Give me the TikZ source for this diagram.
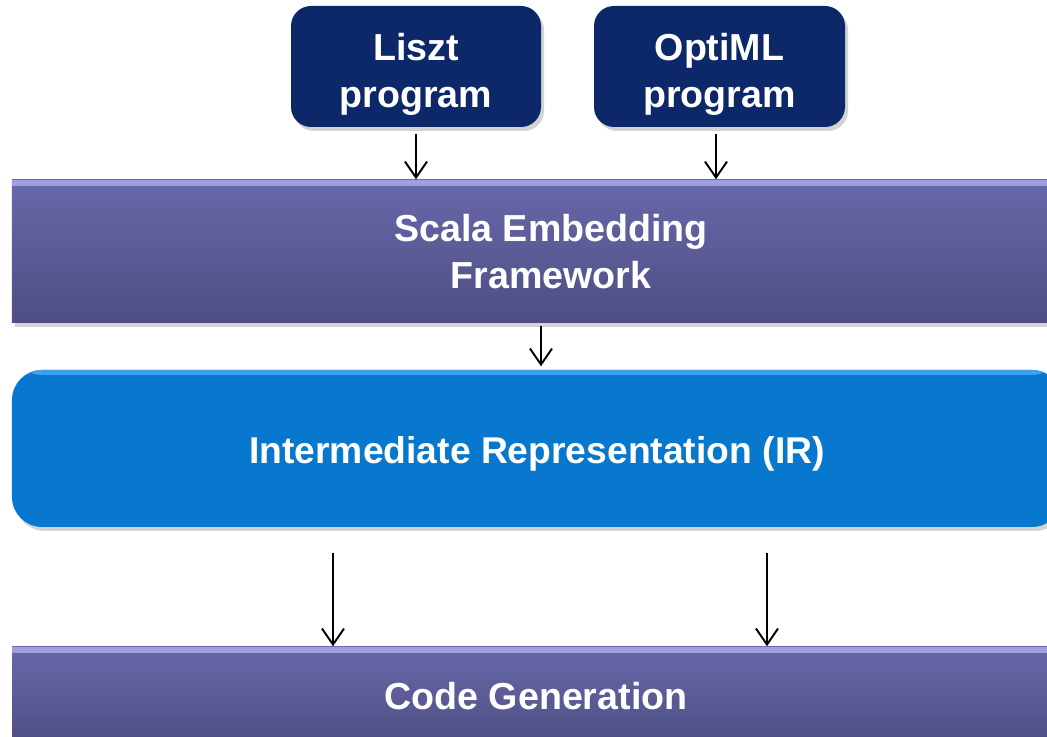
\documentclass[tikz,border=0pt]{standalone}
\usepackage{fontspec}
\setmainfont{Liberation Sans}
\usetikzlibrary{arrows.meta, shadows}

\definecolor{prognavy}{RGB}{12,40,104}
\definecolor{bartop}{RGB}{104,104,170}
\definecolor{barbottom}{RGB}{78,78,132}
\definecolor{barlight}{RGB}{158,158,226}
\definecolor{irblue}{RGB}{8,120,206}
\definecolor{irlight}{RGB}{60,160,238}

\begin{document}
\begin{tikzpicture}[
    every node/.style={font=\fontsize{10.7}{13.2}\selectfont\bfseries, text=white, align=center},
    progbox/.style={draw=none, fill=prognavy, rounded corners=0.2cm,
        minimum width=2.5cm, minimum height=1.21cm,
        drop shadow={shadow xshift=0.03cm, shadow yshift=-0.04cm, opacity=0.35}},
    proglabel/.style={yshift=-0.08cm},
    layerbar/.style={draw=none, top color=bartop, bottom color=barbottom,
        drop shadow={shadow xshift=0.03cm, shadow yshift=-0.04cm, opacity=0.35},
        path picture={\fill[barlight] (path picture bounding box.north west)
            rectangle ([yshift=-0.06cm]path picture bounding box.north east);}},
    irbox/.style={draw=none, fill=irblue, rounded corners=0.3cm,
        drop shadow={shadow xshift=0.03cm, shadow yshift=-0.04cm, opacity=0.35},
        path picture={\fill[irlight] (path picture bounding box.north west)
            rectangle ([yshift=-0.05cm]path picture bounding box.north east);}},
    flow/.style={-{Straight Barb[length=0.16cm, width=0.22cm]}, line width=0.55pt, black}
]
    \useasboundingbox (0,0) rectangle (10.47,7.37);
    \clip (0,0) rectangle (10.47,7.37);

    % the two input programs
    \node[progbox, label={[proglabel]center:Liszt\\program}] (liszt) at (4.16,6.705) {};
    \node[progbox, minimum width=2.51cm, label={[proglabel]center:OptiML\\program}] (optiml) at (7.195,6.705) {};

    % layers
    \node[layerbar, minimum width=10.78cm, minimum height=1.43cm] (scala) at (5.51,4.855) {Scala Embedding\\Framework};
    \node[irbox, minimum width=10.5cm, minimum height=1.57cm, font=\fontsize{10.6}{13}\selectfont\bfseries,
        text height=11pt, text depth=2.4pt] (ir) at (5.37,2.885) {Intermediate Representation (IR)};
    \node[layerbar, minimum width=10.48cm, minimum height=0.98cm] (codegen) at (5.36,0.41) {Code Generation};

    % arrows between the stages
    \draw[flow, shorten <=0.06cm] (liszt.south) -- (liszt.south |- scala.north);
    \draw[flow, shorten <=0.06cm] ([xshift=-0.035cm]optiml.south) -- ([xshift=-0.035cm]optiml.south |- scala.north);
    \draw[flow, shorten <=0.02cm, shorten >=0.03cm] ([xshift=-0.1cm]scala.south) -- ([xshift=-0.1cm]scala.south |- ir.north);
    \draw[flow, shorten <=0.25cm] ([xshift=-2.04cm]ir.south) -- ([xshift=-2.04cm]ir.south |- codegen.north);
    \draw[flow, shorten <=0.25cm] ([xshift=2.3cm]ir.south) -- ([xshift=2.3cm]ir.south |- codegen.north);
\end{tikzpicture}
\end{document}
